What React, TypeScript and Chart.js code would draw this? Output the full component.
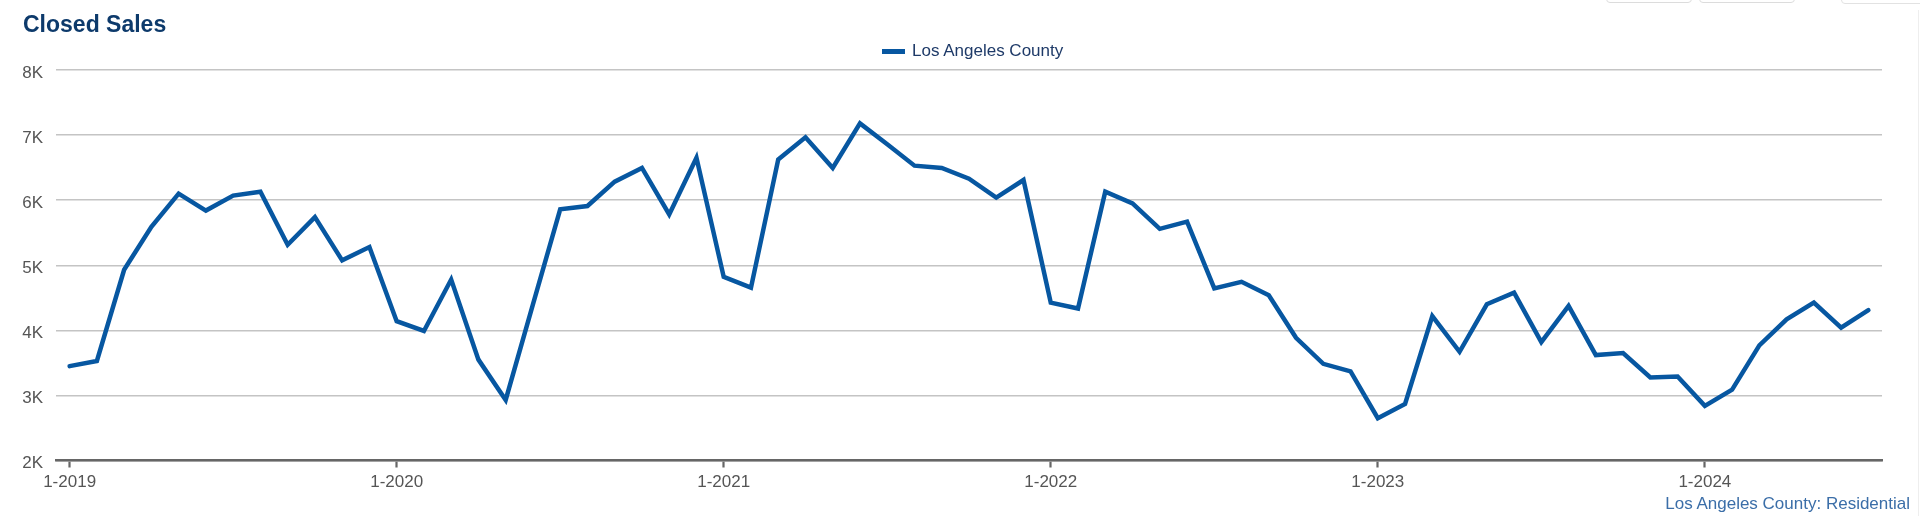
import React, { useEffect, useRef } from "react";
import { Chart, registerables } from "chart.js";

Chart.register(...registerables);

const MONTHS: string[] = [
  "1-2019", "2-2019", "3-2019", "4-2019", "5-2019", "6-2019", "7-2019", "8-2019", "9-2019", "10-2019", "11-2019", "12-2019",
  "1-2020", "2-2020", "3-2020", "4-2020", "5-2020", "6-2020", "7-2020", "8-2020", "9-2020", "10-2020", "11-2020", "12-2020",
  "1-2021", "2-2021", "3-2021", "4-2021", "5-2021", "6-2021", "7-2021", "8-2021", "9-2021", "10-2021", "11-2021", "12-2021",
  "1-2022", "2-2022", "3-2022", "4-2022", "5-2022", "6-2022", "7-2022", "8-2022", "9-2022", "10-2022", "11-2022", "12-2022",
  "1-2023", "2-2023", "3-2023", "4-2023", "5-2023", "6-2023", "7-2023", "8-2023", "9-2023", "10-2023", "11-2023", "12-2023",
  "1-2024", "2-2024", "3-2024", "4-2024", "5-2024", "6-2024", "7-2024",
];

const LA_COUNTY_SALES: number[] = [
  3450, 3530, 4930, 5590, 6100, 5840, 6070, 6130, 5315, 5740, 5075, 5280,
  4140, 3990, 4780, 3550, 2930, 4400, 5860, 5910, 6285, 6495, 5780, 6650,
  4820, 4655, 6625, 6965, 6495, 7180, 6860, 6530, 6495, 6330, 6040, 6310,
  4425, 4335, 6130, 5950, 5560, 5670, 4645, 4745, 4540, 3885, 3485, 3370,
  2650, 2870, 4220, 3670, 4400, 4580, 3820, 4375, 3620, 3650, 3275, 3290,
  2840, 3090, 3770, 4170, 4425, 4040, 4310,
];

const Y_MIN = 2000;
const Y_MAX = 8000;
const Y_STEP = 1000;

const SERIES_NAME = "Los Angeles County";
const TITLE = "Closed Sales";
const FOOTER = "Los Angeles County: Residential";

const LINE_COLOR = "#0757a1";
const FONT = "'Liberation Sans', Arial, Helvetica, sans-serif";

export default function App() {
  const canvasRef = useRef<HTMLCanvasElement | null>(null);

  useEffect(() => {
    if (!canvasRef.current) return;
    const chart = new Chart(canvasRef.current, {
      type: "line",
      data: {
        labels: MONTHS,
        datasets: [
          {
            label: SERIES_NAME,
            data: LA_COUNTY_SALES,
            borderColor: LINE_COLOR,
            backgroundColor: LINE_COLOR,
            borderWidth: 4.5,
            pointRadius: 0,
            pointHoverRadius: 0,
            tension: 0,
            borderJoinStyle: "miter",
            borderCapStyle: "round",
            fill: false,
          },
        ],
      },
      options: {
        animation: false,
        responsive: false,
        devicePixelRatio: 1,
        layout: { padding: { left: 0, right: 38, top: 70, bottom: 0 } },
        plugins: {
          legend: { display: false },
          title: { display: false },
          tooltip: { enabled: false },
        },
        scales: {
          x: {
            type: "category",
            offset: true,
            afterFit: (scale: any) => {
              scale.height = 55.5;
            },
            border: { display: true, color: "#666666", width: 2.5 },
            grid: {
              display: true,
              drawOnChartArea: false,
              drawTicks: true,
              tickLength: 7,
              tickWidth: 2.2,
              tickColor: "#666666",
              offset: false,
            },
            ticks: {
              autoSkip: false,
              maxRotation: 0,
              minRotation: 0,
              padding: 5,
              color: "#555555",
              font: { family: FONT, size: 17 },
              callback: function (this: any, _value: any, index: number) {
                const lab = MONTHS[index];
                return lab.startsWith("1-") ? lab : null;
              },
            },
          },
          y: {
            min: Y_MIN,
            max: Y_MAX,
            afterFit: (scale: any) => {
              scale.width = 56;
            },
            border: { display: false },
            grid: {
              color: "#c4c4c4",
              lineWidth: 1.5,
              drawTicks: false,
            },
            ticks: {
              stepSize: Y_STEP,
              padding: 13,
              labelOffset: 3,
              color: "#555555",
              font: { family: FONT, size: 17 },
              callback: (v: any) => `${Number(v) / 1000}K`,
            },
          },
        },
      },
    });
    return () => chart.destroy();
  }, []);

  return (
    <div
      style={{
        position: "absolute",
        left: 0,
        top: 0,
        width: 1920,
        height: 516,
        overflow: "hidden",
        background: "#ffffff",
        fontFamily: FONT,
      }}
    >
      <canvas
        ref={canvasRef}
        width={1920}
        height={516}
        style={{ position: "absolute", left: 0, top: 0, width: 1920, height: 516 }}
      />
      <div
        style={{
          position: "absolute",
          left: 23,
          top: 12.5,
          fontSize: 23,
          lineHeight: 1,
          fontWeight: 700,
          color: "#0d3a6b",
          whiteSpace: "nowrap",
        }}
      >
        {TITLE}
      </div>
      <div
        style={{
          position: "absolute",
          left: 882,
          top: 48.5,
          width: 23,
          height: 5.5,
          background: LINE_COLOR,
        }}
      />
      <div
        style={{
          position: "absolute",
          left: 912,
          top: 42,
          fontSize: 17,
          lineHeight: 1,
          color: "#1e3a68",
          whiteSpace: "nowrap",
        }}
      >
        {SERIES_NAME}
      </div>
      <div
        style={{
          position: "absolute",
          right: 10,
          top: 495,
          fontSize: 17,
          lineHeight: 1,
          color: "#3b6ea8",
          whiteSpace: "nowrap",
        }}
      >
        {FOOTER}
      </div>
      <div style={{ position: "absolute", left: 1606, top: -30, width: 84, height: 31, border: "1px solid #dcdcdc", borderRadius: 4 }} />
      <div style={{ position: "absolute", left: 1699, top: -30, width: 94, height: 31, border: "1px solid #dcdcdc", borderRadius: 4 }} />
      <div style={{ position: "absolute", left: 1841, top: -30, width: 100, height: 32, border: "1px solid #e2e2e2", borderRadius: 4 }} />
      <div style={{ position: "absolute", left: 1918, top: 10, width: 1, height: 506, background: "#eeeeee" }} />
    </div>
  );
}
